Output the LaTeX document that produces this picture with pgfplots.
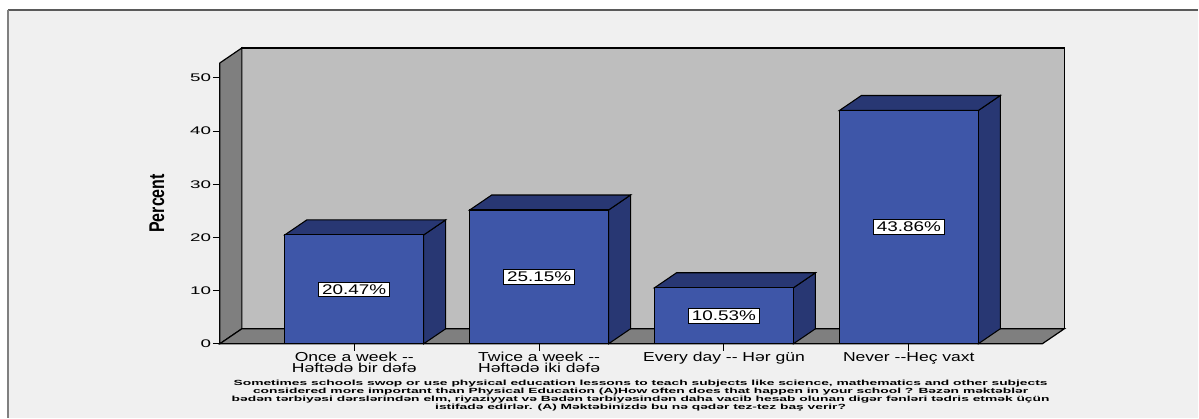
\documentclass[border=0pt]{standalone}
\usepackage{pgfplots}
\pgfplotsset{compat=1.18}
\usepackage{fontspec}
\setmainfont{Liberation Sans}
\newfontfamily\tickfont[FakeStretch=1.7]{Liberation Sans}
\newfontfamily\catfont[FakeStretch=1.35]{Liberation Sans}
\newfontfamily\lblfont[FakeStretch=1.35]{Liberation Sans}
\newfontfamily\ylabfont[FakeStretch=0.75]{Liberation Sans}
\newfontfamily\capfont[FakeStretch=1.85]{Liberation Sans}
\definecolor{bg}{HTML}{F0F0F0}
\definecolor{backwall}{HTML}{BEBEBE}
\definecolor{sidewall}{HTML}{7F7F7F}
\definecolor{barfront}{RGB}{62,86,168}
\definecolor{bardark}{RGB}{40,55,115}
\definecolor{framec}{HTML}{5A5A5A}
\tikzset{lbl/.style={fill=white, draw=black, line width=0.6pt, font=\lblfont\fontsize{10.5}{12}\selectfont, inner xsep=2.5pt, inner ysep=1.8pt}}
\begin{document}
\begin{tikzpicture}
\fill[white] (0,0) rectangle (899.25pt,313.5pt);
\fill[bg] (6pt,0) rectangle (899.25pt,306pt);
\draw[framec, line width=1.2pt] (6pt,306pt) -- (899.25pt,306pt);
\draw[gray, line width=1.6pt] (6pt,0) -- (6pt,306pt);
\begin{axis}[
  at={(165pt,55.5pt)}, anchor=south west,
  scale only axis, width=617.25pt, height=210.75pt,
  xmin=-0.727, xmax=3.722, ymin=0, ymax=52.8,
  clip=false,
  axis x line*=bottom, axis y line*=left,
  axis line style={-, black, line width=0.9pt},
  tick align=outside, major tick length=5.25pt,
  tick style={black, line width=0.75pt},
  ytick={0,10,20,30,40,50},
  yticklabels={0,10,20,30,40,50},
  xtick={0,1,2,3},
  xticklabels={{Once a week --\\Həftədə bir dəfə},{Twice a week --\\Həftədə iki dəfə},{Every day -- Hər gün},{Never --Heç vaxt}},
  /pgf/number format/assume math mode=true,
  yticklabel style={font=\tickfont\fontsize{8.3}{9}\selectfont, inner sep=1.2pt},
  xticklabel style={font=\catfont\fontsize{9.75}{8.2}\selectfont, align=center, inner sep=1pt},
  every axis y label/.style={at={(axis description cs:-0.0766,0.5)}, rotate=90, anchor=center, font=\ylabfont\bfseries\fontsize{16}{18}\selectfont},
  ylabel={Percent},
  every axis x label/.style={at={(axis description cs:0.5116,-0.186)}, anchor=center, align=center, font=\capfont\bfseries\fontsize{5.6}{6}\selectfont},
  xlabel={Sometimes schools swop or use physical education lessons to teach subjects like science, mathematics and other subjects\\considered more important than Physical Education (A)How often does that happen in your school ? Bəzən məktəblər\\bədən tərbiyəsi dərslərindən elm, riyaziyyat və Bədən tərbiyəsindən daha vacib hesab olunan digər fənləri tədris etmək üçün\\istifadə edirlər. (A) Məktəbinizdə bu nə qədər tez-tez baş verir?},
]
% walls
\addplot[fill=backwall, draw=black, line width=0.9pt] coordinates {(-0.608,2.82) (3.841,2.82) (3.841,55.62) (-0.608,55.62)} -- cycle;
\addplot[fill=sidewall, draw=black, line width=0.9pt] coordinates {(-0.727,0) (-0.608,2.82) (-0.608,55.62) (-0.727,52.8)} -- cycle;
\addplot[fill=sidewall, draw=black, line width=0.9pt] coordinates {(-0.727,0) (3.722,0) (3.841,2.82) (-0.608,2.82)} -- cycle;
% bar sides
\addplot[fill=bardark, draw=black, line width=0.8pt] coordinates {(0.3757,0) (0.4947,2.82) (0.4947,23.29) (0.3757,20.47)} -- cycle;
\addplot[fill=bardark, draw=black, line width=0.8pt] coordinates {(1.3757,0) (1.4947,2.82) (1.4947,27.97) (1.3757,25.15)} -- cycle;
\addplot[fill=bardark, draw=black, line width=0.8pt] coordinates {(2.3757,0) (2.4947,2.82) (2.4947,13.35) (2.3757,10.53)} -- cycle;
\addplot[fill=bardark, draw=black, line width=0.8pt] coordinates {(3.3757,0) (3.4947,2.82) (3.4947,46.68) (3.3757,43.86)} -- cycle;
% bar tops
\addplot[fill=bardark, draw=black, line width=0.8pt] coordinates {(-0.3757,20.47) (-0.2567,23.29) (0.4947,23.29) (0.3757,20.47)} -- cycle;
\addplot[fill=bardark, draw=black, line width=0.8pt] coordinates {(0.6243,25.15) (0.7433,27.97) (1.4947,27.97) (1.3757,25.15)} -- cycle;
\addplot[fill=bardark, draw=black, line width=0.8pt] coordinates {(1.6243,10.53) (1.7433,13.35) (2.4947,13.35) (2.3757,10.53)} -- cycle;
\addplot[fill=bardark, draw=black, line width=0.8pt] coordinates {(2.6243,43.86) (2.7433,46.68) (3.4947,46.68) (3.3757,43.86)} -- cycle;
% bar fronts
\addplot[ybar, bar width=104.25pt, fill=barfront, draw=black, line width=0.8pt] coordinates {(0,20.47) (1,25.15) (2,10.53) (3,43.86)};
% value labels
\node[lbl] at (axis cs:0,10.235) {20.47\%};
\node[lbl] at (axis cs:1,12.575) {25.15\%};
\node[lbl] at (axis cs:2,5.265) {10.53\%};
\node[lbl] at (axis cs:3,21.93) {43.86\%};
\end{axis}
\end{tikzpicture}
\end{document}
